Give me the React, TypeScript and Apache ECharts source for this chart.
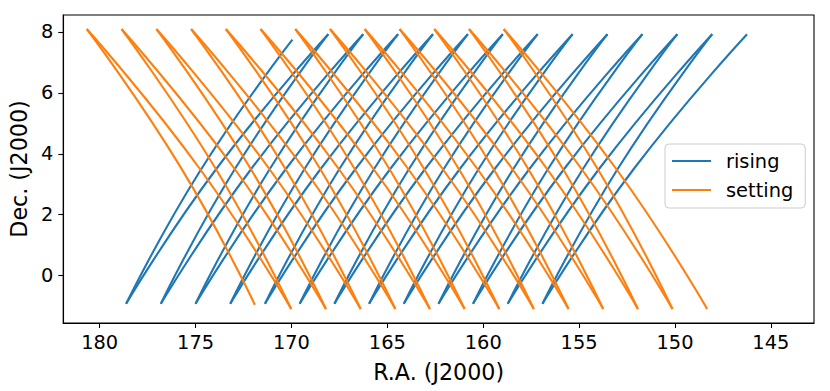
import React, { useEffect, useRef } from "react";
import * as echarts from "echarts";

// ---- data (R.A. / Dec. in degrees) ----
const risingTopRA = [169.95, 168.08, 166.26, 164.44, 162.62, 160.8, 158.98, 157.16, 155.34, 153.52, 151.7, 149.88, 148.06, 146.24];
const risingTopDec = [7.74, 7.92, 7.92, 7.92, 7.92, 7.92, 7.92, 7.92, 7.92, 7.92, 7.92, 7.92, 7.92, 7.92];
const risingBottomRA = [178.62, 176.81, 175.0, 173.19, 171.38, 169.57, 167.76, 165.95, 164.14, 162.33, 160.53, 158.72, 156.91];
const risingBottomDec = [-0.92, -0.92, -0.92, -0.92, -0.92, -0.92, -0.92, -0.92, -0.92, -0.92, -0.92, -0.92, -0.92];
const risingNearMidRA = [174.79, 172.95, 171.13, 169.32, 167.5, 165.69, 163.87, 162.06, 160.24, 158.43, 156.62, 154.8, 152.99];
const risingNearMidDec = [3.41, 3.5, 3.5, 3.5, 3.5, 3.5, 3.5, 3.5, 3.5, 3.5, 3.5, 3.5, 3.5];
const risingFarMidRA = [173.92, 172.1, 170.29, 168.48, 166.66, 164.85, 163.03, 161.22, 159.4, 157.59, 155.78, 153.96, 152.15];
const risingFarMidDec = [3.5, 3.5, 3.5, 3.5, 3.5, 3.5, 3.5, 3.5, 3.5, 3.5, 3.5, 3.5, 3.5];

const settingTopRA = [180.67, 178.86, 177.04, 175.23, 173.42, 171.61, 169.8, 167.99, 166.18, 164.36, 162.55, 160.74, 158.93];
const settingTopDec = [8.09, 8.09, 8.09, 8.09, 8.09, 8.09, 8.09, 8.09, 8.09, 8.09, 8.09, 8.09, 8.09];
const settingBottomRA = [171.91, 170.01, 168.2, 166.39, 164.58, 162.78, 160.97, 159.16, 157.36, 155.55, 153.74, 151.93, 150.13, 148.32];
const settingBottomDec = [-0.95, -1.09, -1.09, -1.09, -1.09, -1.09, -1.09, -1.09, -1.09, -1.09, -1.09, -1.09, -1.09, -1.09];
const settingNearMidRA = [175.79, 173.94, 172.12, 170.31, 168.5, 166.7, 164.89, 163.08, 161.27, 159.46, 157.65, 155.84, 154.03];
const settingNearMidDec = [3.57, 3.5, 3.5, 3.5, 3.5, 3.5, 3.5, 3.5, 3.5, 3.5, 3.5, 3.5, 3.5];
const settingFarMidRA = [174.77, 172.96, 171.15, 169.34, 167.53, 165.72, 163.91, 162.11, 160.3, 158.48, 156.67, 154.87, 153.06];
const settingFarMidDec = [3.5, 3.5, 3.5, 3.5, 3.5, 3.5, 3.5, 3.5, 3.5, 3.5, 3.5, 3.5, 3.5];

const xTicks = [145, 150, 155, 160, 165, 170, 175, 180];
const yTicks = [0, 2, 4, 6, 8];

const BLUE = "#1f77b4";
const ORANGE = "#ff7f0e";
const FONT = "DejaVu Sans";

function lineSeries(name: string, color: string, data: number[][]) {
  return {
    type: "line",
    name,
    data,
    smooth: 0.5,
    symbol: "none",
    showSymbol: false,
    silent: true,
    lineStyle: { color, width: 2.1 },
    itemStyle: { color },
    emphasis: { disabled: true },
  };
}

function buildSeries() {
  const out: any[] = [];
  for (let i = 0; i < risingBottomRA.length; i++) {
    const b = [risingBottomRA[i], risingBottomDec[i]];
    out.push(lineSeries("rising", BLUE, [b, [risingNearMidRA[i], risingNearMidDec[i]], [risingTopRA[i], risingTopDec[i]]]));
    out.push(lineSeries("rising", BLUE, [b, [risingFarMidRA[i], risingFarMidDec[i]], [risingTopRA[i + 1], risingTopDec[i + 1]]]));
  }
  for (let j = 0; j < settingTopRA.length; j++) {
    const t = [settingTopRA[j], settingTopDec[j]];
    out.push(lineSeries("setting", ORANGE, [t, [settingNearMidRA[j], settingNearMidDec[j]], [settingBottomRA[j], settingBottomDec[j]]]));
    out.push(lineSeries("setting", ORANGE, [t, [settingFarMidRA[j], settingFarMidDec[j]], [settingBottomRA[j + 1], settingBottomDec[j + 1]]]));
  }
  return out;
}

export default function App() {
  const ref = useRef<HTMLDivElement>(null);
  useEffect(() => {
    if (!ref.current) return;
    const chart = echarts.init(ref.current, null, { renderer: "svg" });
    chart.setOption({
      animation: false,
      backgroundColor: "#ffffff",
      grid: {
        left: 61,
        right: 16,
        top: 15,
        bottom: 68,
        show: true,
        borderColor: "#000",
        borderWidth: 1.1,
        backgroundColor: "transparent",
      },
      legend: {
        data: [
          { name: "rising", icon: "rect", itemStyle: { color: BLUE } },
          { name: "setting", icon: "rect", itemStyle: { color: ORANGE } },
        ],
        orient: "vertical",
        left: 665,
        top: 144,
        padding: [7, 12, 8, 7],
        itemWidth: 39,
        itemHeight: 2.1,
        itemGap: 9,
        borderColor: "#cccccc",
        borderWidth: 1,
        borderRadius: 4,
        backgroundColor: "rgba(255,255,255,0.8)",
        textStyle: {
          fontFamily: FONT,
          fontSize: 19.4,
          color: "#000",
          lineHeight: 20,
          padding: [0, 0, 0, 10],
        },
        selectedMode: false,
      },
      xAxis: {
        type: "value",
        inverse: true,
        min: 142.75,
        max: 181.9,
        name: "R.A. (J2000)",
        nameLocation: "middle",
        nameGap: 38,
        nameTextStyle: { fontFamily: FONT, fontSize: 22.2, color: "#000" },
        axisLine: { show: true, onZero: false, lineStyle: { color: "#000", width: 1.1 } },
        axisTick: { show: true, length: 5, lineStyle: { color: "#000", width: 1.1 }, customValues: xTicks },
        axisLabel: { margin: 10, fontFamily: FONT, fontSize: 19.4, color: "#000", customValues: xTicks },
        splitLine: { show: false },
      },
      yAxis: {
        type: "value",
        min: -1.55,
        max: 8.55,
        name: "Dec. (J2000)",
        nameLocation: "middle",
        nameGap: 28,
        nameRotate: 90,
        nameTextStyle: { fontFamily: FONT, fontSize: 22.2, color: "#000" },
        axisLine: { show: true, onZero: false, lineStyle: { color: "#000", width: 1.1 } },
        axisTick: { show: true, length: 5, lineStyle: { color: "#000", width: 1.1 }, customValues: yTicks },
        axisLabel: { margin: 10, fontFamily: FONT, fontSize: 19.4, color: "#000", customValues: yTicks },
        splitLine: { show: false },
      },
      series: buildSeries(),
    });
    return () => chart.dispose();
  }, []);
  return (
    <div
      ref={ref}
      style={{ position: "absolute", left: 0, top: 0, width: 830, height: 391, background: "#fff" }}
    />
  );
}
